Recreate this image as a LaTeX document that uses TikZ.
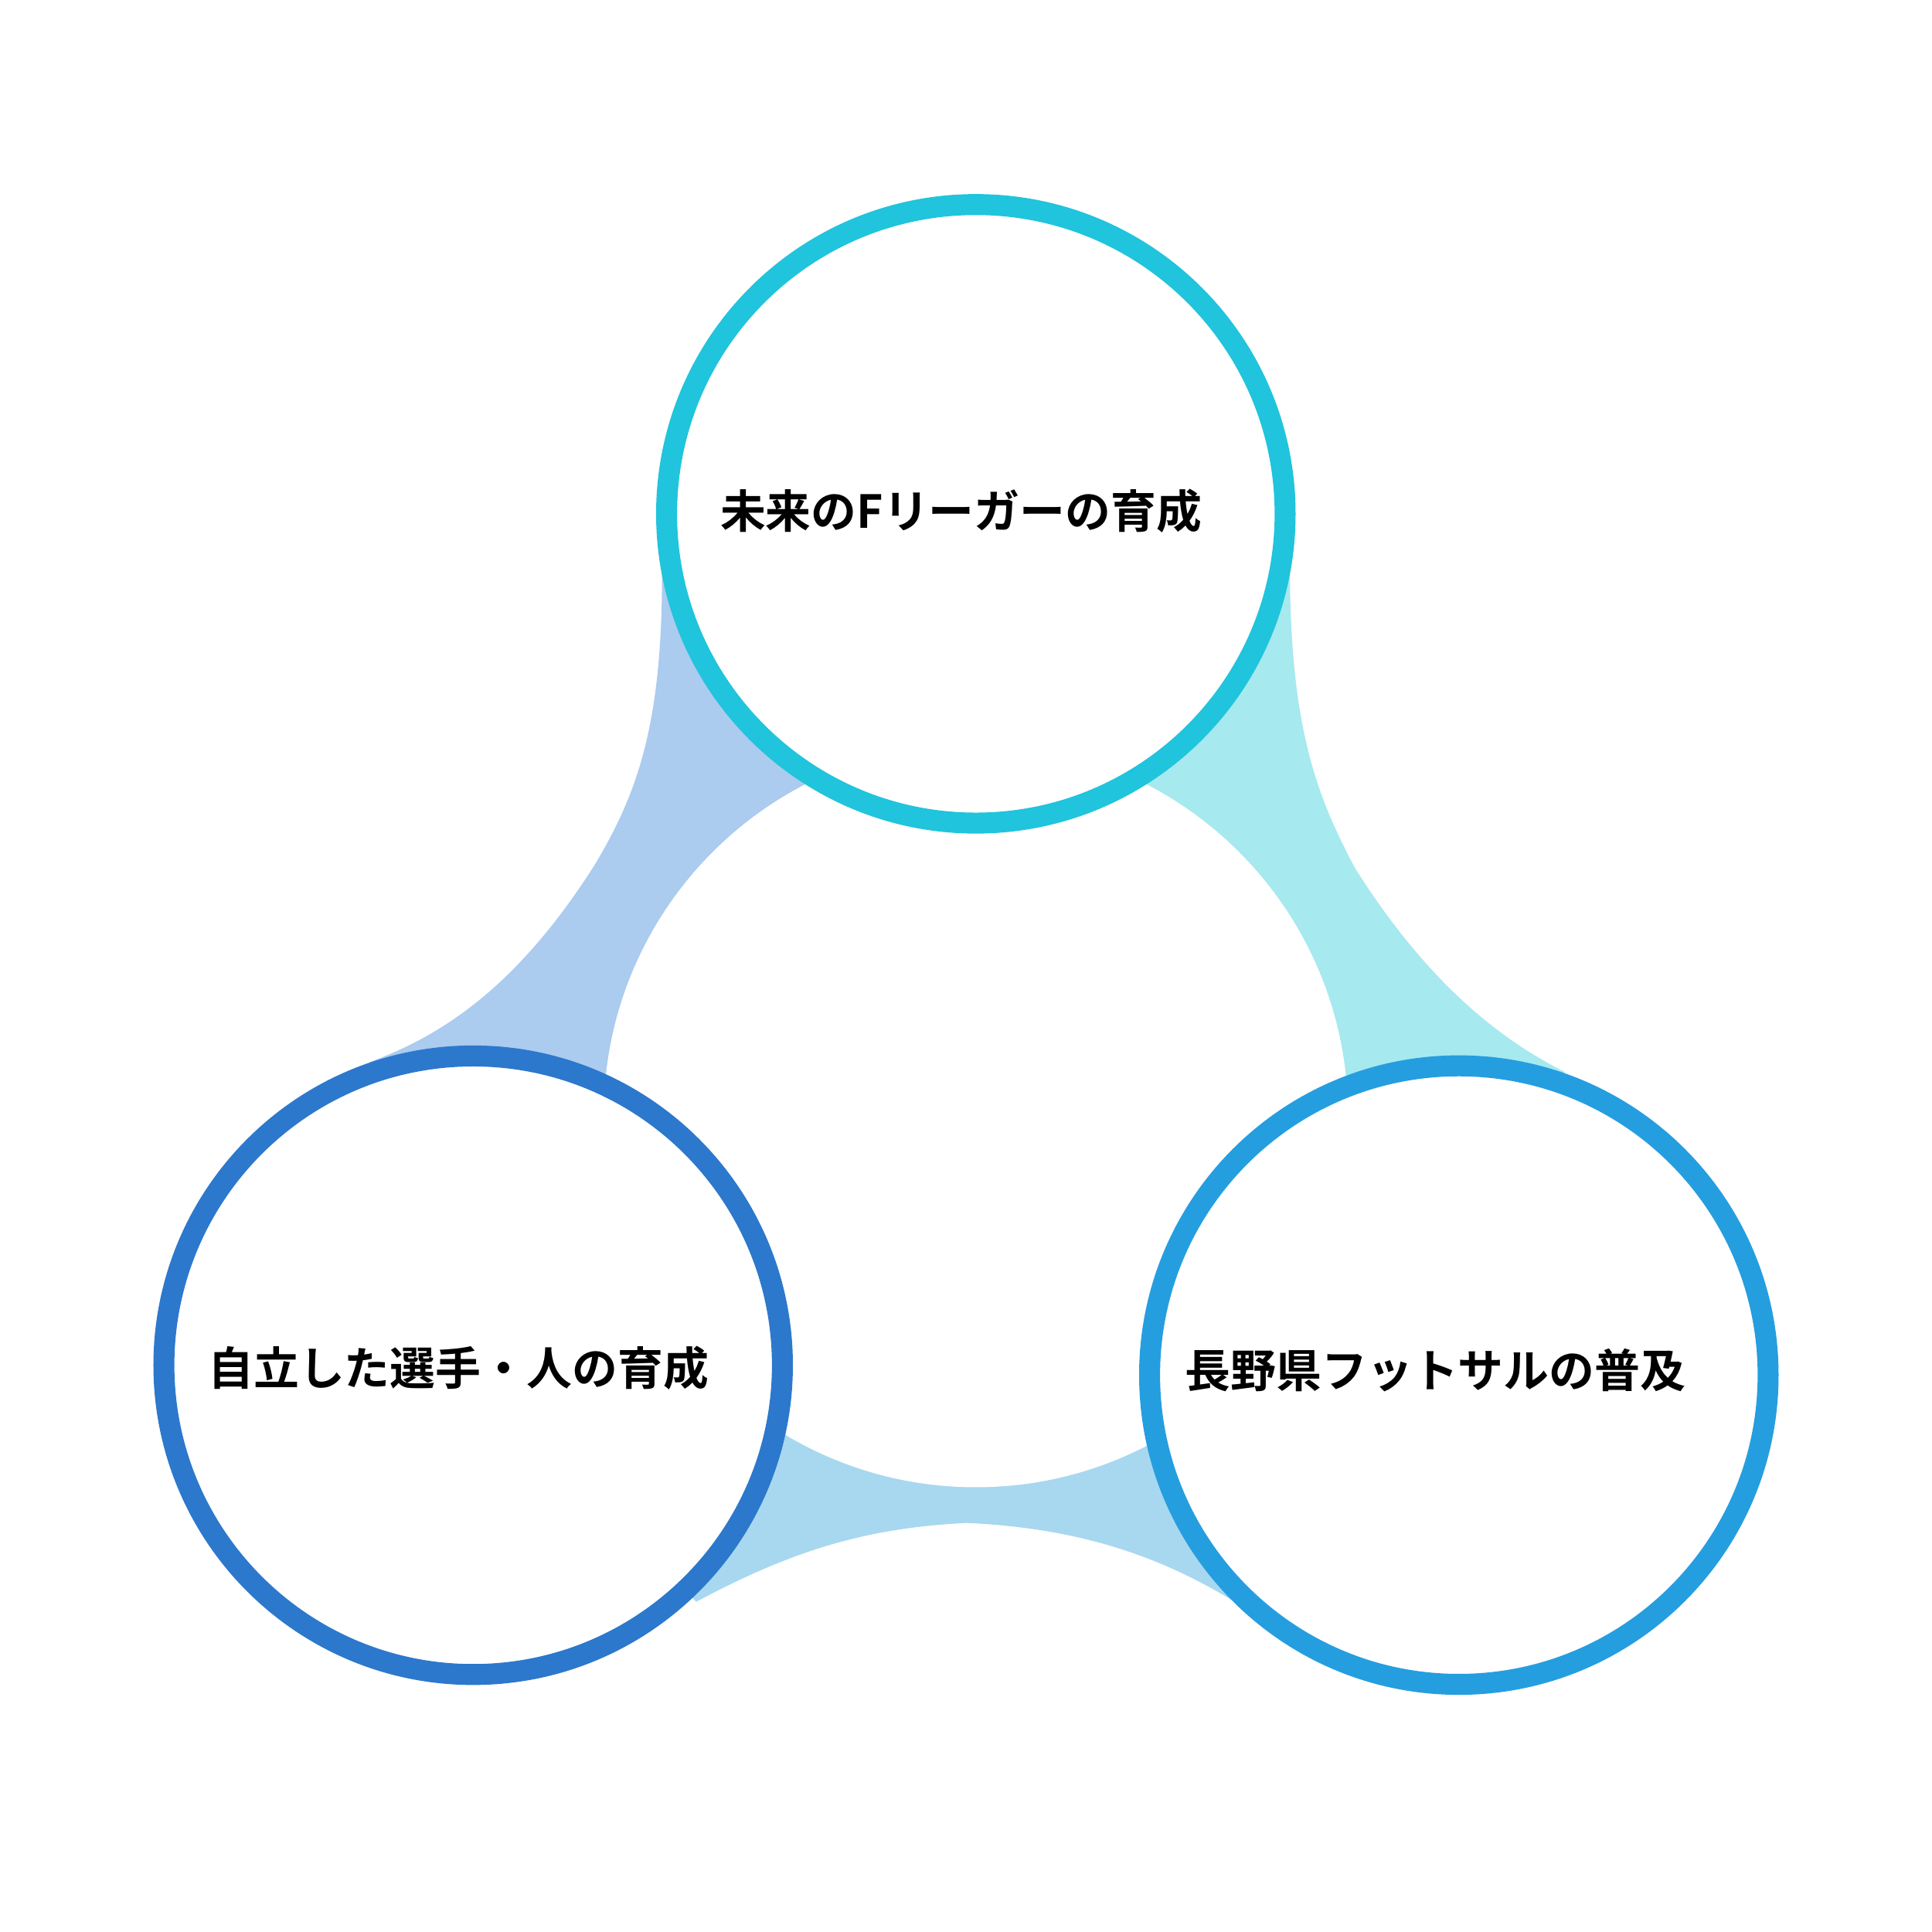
\documentclass[tikz,border=0pt]{standalone}
\usepackage{fontspec}
\newfontfamily\cjk{Noto Sans CJK JP}[BoldFont={Noto Sans CJK JP Bold}]
\definecolor{ctop}{HTML}{20C4DC}
\definecolor{cleft}{HTML}{2C78CC}
\definecolor{cright}{HTML}{259EE0}
\definecolor{btl}{HTML}{ABCBEF}
\definecolor{btr}{HTML}{A6E9EF}
\definecolor{bbot}{HTML}{A8D8F0}
\begin{document}
\begin{tikzpicture}[x=0.01cm,y=-0.01cm,
  ring/.style={draw=#1,line width=0.17cm,fill=white},
  lbl/.style={font=\cjk\bfseries\fontsize{10.5pt}{12pt}\selectfont,text=black}]
\useasboundingbox[fill=white] (0,0) rectangle (1568,1568);
\coordinate (T) at (792,417);
\coordinate (L) at (384,1108);
\coordinate (R) at (1184,1116);
\coordinate (C) at (792,905);
\fill[btl] (537,440) .. controls (540,580) and (520,640) .. (482,703) .. controls (420,800) and (360,840) .. (300,862) -- (L) -- (C) -- (T) -- cycle;
\fill[btr] (1047,440) .. controls (1045,580) and (1065,640) .. (1100,705) .. controls (1160,800) and (1220,845) .. (1270,870) -- (R) -- (C) -- (T) -- cycle;
\fill[bbot] (565,1300) .. controls (640,1260) and (700,1240) .. (785,1236) .. controls (870,1240) and (940,1260) .. (1010,1305) -- (R) -- (C) -- (L) -- cycle;
\fill[white] (792,905) circle[radius=302];
\node[lbl,text=white] (ct) at (780,880) {スクール理念};
\draw[ring=ctop] (T) circle[radius=251];
\draw[ring=cleft] (L) circle[radius=251];
\draw[ring=cright] (R) circle[radius=251];
\node[lbl] (tt) at (780,415) {未来のFリーガーの育成};
\node[lbl] (lt) at (372,1110) {自立した選手・人の育成};
\node[lbl] (rt) at (1165,1112) {長野県フットサルの普及};
\end{tikzpicture}
\end{document}
